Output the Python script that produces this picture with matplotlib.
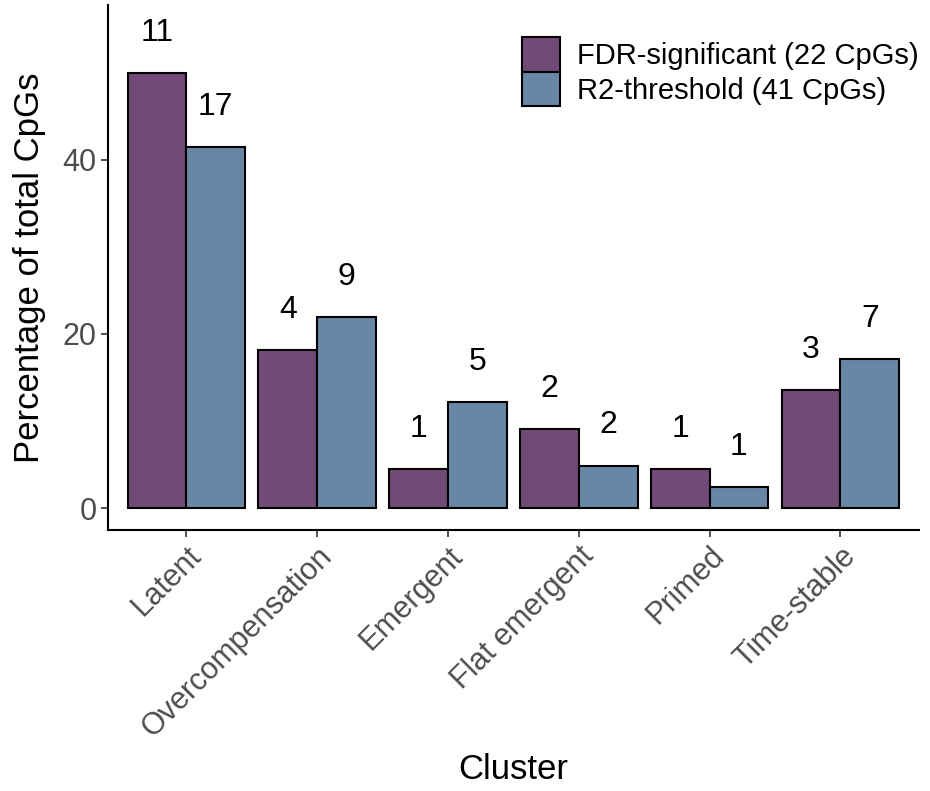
import matplotlib
matplotlib.use("Agg")
import matplotlib.pyplot as plt
import numpy as np
from matplotlib.patches import Patch

plt.rcParams['font.family'] = ['Liberation Sans', 'DejaVu Sans']

clusters = ["Latent", "Overcompensation", "Emergent", "Flat emergent", "Primed", "Time-stable"]
fdr_counts = [11, 4, 1, 2, 1, 3]
r2_counts = [17, 9, 5, 2, 1, 7]
fdr_pct = [50.0, 18.2, 4.5, 9.1, 4.5, 13.6]
r2_pct = [41.5, 22.0, 12.2, 4.9, 2.4, 17.1]
series_labels = ["FDR-significant (22 CpGs)", "R2-threshold (41 CpGs)"]
colors = ["#724a78", "#6887a5"]

fig = plt.figure(figsize=(9.3, 7.91), dpi=100)
ax = fig.add_axes([0.116, 0.330, 0.872, 0.664])

x = np.arange(1, len(clusters) + 1)
w = 0.45
for off, vals, cnts, c in [(-w/2, fdr_pct, fdr_counts, colors[0]), (w/2, r2_pct, r2_counts, colors[1])]:
    ax.bar(x + off, vals, width=w, color=c, edgecolor="black", linewidth=1.5, zorder=2)
    for xi, v, n in zip(x + off, vals, cnts):
        ax.text(xi, v + 4.6, str(n), ha="center", va="center", fontsize=23, color="black")

ax.set_xlim(0.4, 6.6)
ax.set_ylim(-2.5, 57.8)
ax.set_yticks([0, 20, 40])
ax.set_xticks(x)
ax.set_xticklabels(clusters, rotation=45, ha="right", va="top", rotation_mode="anchor")
ax.tick_params(axis="both", labelsize=22, labelcolor="#4d4d4d", length=5, width=1.2, color="#333333")
ax.tick_params(axis="x", pad=3)
ax.tick_params(axis="y", pad=3)
for s in ["top", "right"]:
    ax.spines[s].set_visible(False)
for s in ["left", "bottom"]:
    ax.spines[s].set_linewidth(1.5)
ax.set_xlabel("Cluster", fontsize=25, labelpad=7)
ax.set_ylabel("Percentage of total CpGs", fontsize=25, labelpad=12)

handles = [Patch(facecolor=colors[i], edgecolor="black", linewidth=1.5, label=series_labels[i]) for i in range(2)]
fig.legend(handles=handles, loc="upper left", bbox_to_anchor=(522/930, 1 - 37/791), frameon=False, fontsize=21,
           handlelength=1.3, handleheight=1.45, handletextpad=0.6, labelspacing=0.0, borderpad=0.0,
           borderaxespad=0.0)

fig.savefig("out.png", dpi=100)
